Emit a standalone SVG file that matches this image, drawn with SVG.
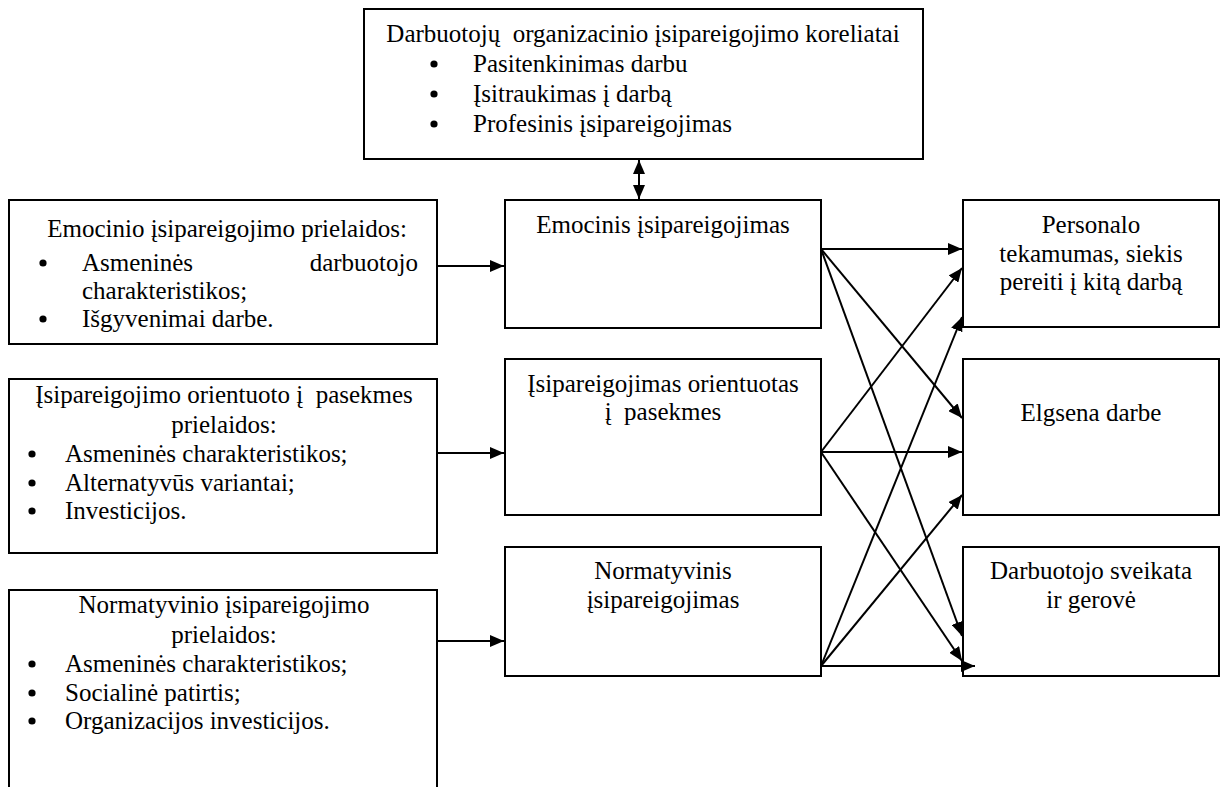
<svg xmlns="http://www.w3.org/2000/svg" width="1220" height="787" viewBox="0 0 1220 787">
  <style>
    .box { fill: #ffffff; stroke: #000000; stroke-width: 2; }
    .t { font-family: "Liberation Serif", "Times New Roman", Times, "DejaVu Serif", serif; font-size: 25px; fill: #000000; white-space: pre; }
    .c { text-anchor: middle; }
    .e { text-anchor: end; }
    .bullet { fill: #000000; }
    .conn { stroke: #000000; stroke-width: 2; fill: none; marker-end: url(#head); }
    .both { marker-start: url(#head); }
  </style>
  <defs>
    <marker id="head" markerUnits="userSpaceOnUse" markerWidth="14" markerHeight="12" refX="14" refY="6" orient="auto-start-reverse">
      <path d="M0,0 L14,6 L0,12 z" fill="#000000"/>
    </marker>
  </defs>

  <rect width="1220" height="787" fill="#ffffff"/>

  <g font-family="Liberation Serif, Times New Roman, serif">
  <!-- correlates -->
  <g id="koreliatai">
    <rect class="box" x="364" y="9" width="559" height="150"/>
    <text class="t c" x="643" y="42">Darbuotojų  organizacinio įsipareigojimo koreliatai</text>
    <circle class="bullet" cx="434" cy="64" r="3.6"/>
    <text class="t" x="473" y="72">Pasitenkinimas darbu</text>
    <circle class="bullet" cx="434" cy="94" r="3.6"/>
    <text class="t" x="473" y="102">Įsitraukimas į darbą</text>
    <circle class="bullet" cx="434" cy="124" r="3.6"/>
    <text class="t" x="473" y="132">Profesinis įsipareigojimas</text>
  </g>

  <!-- antecedents -->
  <g id="emocinio-prielaidos">
    <rect class="box" x="9" y="200" width="428" height="144"/>
    <text class="t c" x="227" y="237">Emocinio įsipareigojimo prielaidos:</text>
    <circle class="bullet" cx="43" cy="263" r="3.6"/>
    <text class="t" x="82" y="271">Asmeninės</text>
    <text class="t e" x="418" y="271">darbuotojo</text>
    <text class="t" x="82" y="299">charakteristikos;</text>
    <circle class="bullet" cx="43" cy="319" r="3.6"/>
    <text class="t" x="82" y="327">Išgyvenimai darbe.</text>
  </g>

  <g id="pasekmiu-prielaidos">
    <rect class="box" x="9" y="379" width="428" height="174"/>
    <text class="t c" x="224" y="403">Įsipareigojimo orientuoto į  pasekmes</text>
    <text class="t c" x="224" y="433">prielaidos:</text>
    <circle class="bullet" cx="32" cy="454" r="3.6"/>
    <text class="t" x="65" y="462">Asmeninės charakteristikos;</text>
    <circle class="bullet" cx="32" cy="483" r="3.6"/>
    <text class="t" x="65" y="491">Alternatyvūs variantai;</text>
    <circle class="bullet" cx="32" cy="511" r="3.6"/>
    <text class="t" x="65" y="519">Investicijos.</text>
  </g>

  <g id="normatyvinio-prielaidos">
    <path class="box" d="M9,800 V590 H437 V800"/>
    <text class="t c" x="224" y="613">Normatyvinio įsipareigojimo</text>
    <text class="t c" x="224" y="643">prielaidos:</text>
    <circle class="bullet" cx="32" cy="664" r="3.6"/>
    <text class="t" x="65" y="672">Asmeninės charakteristikos;</text>
    <circle class="bullet" cx="32" cy="693" r="3.6"/>
    <text class="t" x="65" y="701">Socialinė patirtis;</text>
    <circle class="bullet" cx="32" cy="721" r="3.6"/>
    <text class="t" x="65" y="729">Organizacijos investicijos.</text>
  </g>

  <!-- commitment components -->
  <g id="emocinis">
    <rect class="box" x="505" y="200" width="316" height="128"/>
    <text class="t c" x="663" y="233">Emocinis įsipareigojimas</text>
  </g>

  <g id="pasekmes">
    <rect class="box" x="505" y="359" width="316" height="156"/>
    <text class="t c" x="663" y="392">Įsipareigojimas orientuotas</text>
    <text class="t c" x="663" y="420">į  pasekmes</text>
  </g>

  <g id="normatyvinis">
    <rect class="box" x="505" y="547" width="316" height="129"/>
    <text class="t c" x="663" y="579">Normatyvinis</text>
    <text class="t c" x="663" y="608">įsipareigojimas</text>
  </g>

  <!-- outcomes -->
  <g id="tekamumas">
    <rect class="box" x="963" y="200" width="256" height="127"/>
    <text class="t c" x="1091" y="233">Personalo</text>
    <text class="t c" x="1091" y="262">tekamumas, siekis</text>
    <text class="t c" x="1091" y="290">pereiti į kitą darbą</text>
  </g>

  <g id="elgsena">
    <rect class="box" x="963" y="359" width="256" height="156"/>
    <text class="t c" x="1091" y="421">Elgsena darbe</text>
  </g>

  <g id="sveikata">
    <rect class="box" x="963" y="547" width="256" height="129"/>
    <text class="t c" x="1091" y="579">Darbuotojo sveikata</text>
    <text class="t c" x="1091" y="608">ir gerovė</text>
  </g>
  </g>

  <!-- connectors -->
  <g id="connectors">
    <line class="conn both" x1="639" y1="160" x2="639" y2="199"/>

    <line class="conn" x1="438" y1="266" x2="504" y2="266"/>
    <line class="conn" x1="438" y1="453" x2="504" y2="453"/>
    <line class="conn" x1="438" y1="641" x2="504" y2="641"/>

    <line class="conn" x1="821" y1="249" x2="962" y2="249"/>
    <line class="conn" x1="821" y1="249" x2="962" y2="418"/>
    <line class="conn" x1="821" y1="249" x2="962" y2="636"/>

    <line class="conn" x1="821" y1="452" x2="962" y2="268"/>
    <line class="conn" x1="821" y1="452" x2="962" y2="452"/>
    <line class="conn" x1="821" y1="452" x2="962" y2="661"/>

    <line class="conn" x1="821" y1="666" x2="962" y2="317"/>
    <line class="conn" x1="821" y1="666" x2="962" y2="495"/>
    <line class="conn" x1="821" y1="666" x2="975" y2="666"/>
  </g>
</svg>
